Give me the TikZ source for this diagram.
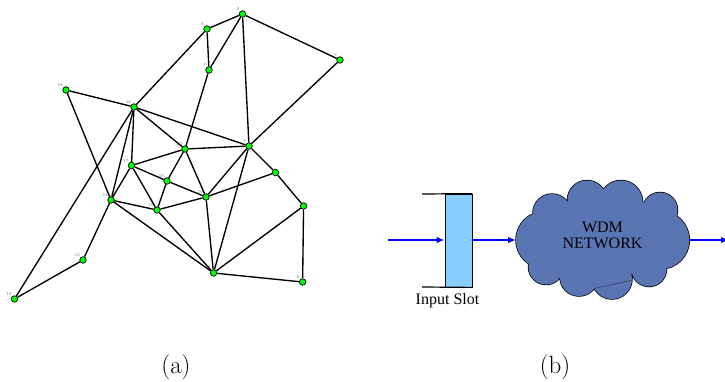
\documentclass[tikz,border=0pt]{standalone}
\usepackage{fontspec}
\newfontfamily\timesfont{Liberation Serif}
\usetikzlibrary{arrows.meta}
\definecolor{cloudblue}{HTML}{5A75B4}
\definecolor{slotblue}{HTML}{85CEFF}
\newcommand{\cloudbumps}{(552,213) circle (19pt) (587,200) circle (19.5pt) (621,202) circle (21.5pt)
  (660,210) circle (17.5pt) (660.3,240) circle (29pt) (649,269) circle (17.5pt)
  (612,279) circle (20pt) (579,277) circle (19pt) (546,267) circle (17.5pt) (544.5,240) circle (28.5pt)}
\tikzset{
  router/.style={circle,draw=black,fill=green,line width=0.7pt,inner sep=0pt,minimum size=6.5pt,label distance=-1.5pt},
  tag/.style={text=gray,font=\fontsize{4.5}{5}\selectfont\sffamily,inner sep=0.5pt},
  link/.style={line width=1.35pt},
  wave/.style={blue,line width=1.5pt,-{Latex[length=8pt,width=6.5pt]}},
  caption/.style={font=\fontsize{25}{28}\selectfont,inner sep=0pt},
  serif/.style={font=\fontsize{16}{16.5}\selectfont\timesfont,inner sep=0pt,align=center}
}
\begin{document}
\begin{tikzpicture}[x=1pt,y=-1pt]
\useasboundingbox (0,0) rectangle (725,381);
% routers of the mesh
\node[router,label={[tag]135:2}] (r2) at (242.5,14) {};
\node[router,label={[tag]135:6}] (r6) at (207,29) {};
\node[router,label={[tag]135:7}] (r7) at (209,70) {};
\node[router,label={[tag]135:3}] (r3) at (340,60) {};
\node[router,label={[tag]135:15}] (r15) at (66,90) {};
\node[router,label={[tag]135:14}] (r14) at (134,107) {};
\node[router,label={[tag]135:4}] (r4) at (249,146) {};
\node[router,label={[tag]135:10}] (r10) at (185,149) {};
\node[router,label={[tag]135:17}] (r17) at (131.5,165.5) {};
\node[router,label={[tag]135:18}] (r18) at (167,181) {};
\node[router,label={[tag]135:5}] (r5) at (275.5,172.5) {};
\node[router,label={[tag]135:16}] (r16) at (206,197) {};
\node[router,label={[tag]135:11}] (r11) at (111,200) {};
\node[router,label={[tag]135:19}] (r19) at (157,210) {};
\node[router,label={[tag]135:9}] (r9) at (303.6,206) {};
\node[router,label={[tag]135:0}] (r0) at (213.5,273) {};
\node[router,label={[tag]135:12}] (r12) at (83,260) {};
\node[router,label={[tag]135:13}] (r13) at (14.5,299) {};
\node[router,label={[tag]135:8}] (r8) at (302.6,282) {};
% links
\draw[link] (r2)--(r6);
\draw[link] (r2)--(r7);
\draw[link] (r2)--(r4);
\draw[link] (r2)--(r3);
\draw[link] (r6)--(r7);
\draw[link] (r6)--(r14);
\draw[link] (r7)--(r10);
\draw[link] (r3)--(r4);
\draw[link] (r15)--(r14);
\draw[link] (r15)--(r11);
\draw[link] (r14)--(r4);
\draw[link] (r14)--(r10);
\draw[link] (r14)--(r17);
\draw[link] (r14)--(r11);
\draw[link] (r14)--(r13);
\draw[link] (r17)--(r10);
\draw[link] (r10)--(r4);
\draw[link] (r10)--(r18);
\draw[link] (r10)--(r16);
\draw[link] (r17)--(r11);
\draw[link] (r17)--(r18);
\draw[link] (r17)--(r19);
\draw[link] (r18)--(r19);
\draw[link] (r18)--(r16);
\draw[link] (r11)--(r19);
\draw[link] (r11)--(r0);
\draw[link] (r11)--(r12);
\draw[link] (r19)--(r16);
\draw[link] (r19)--(r0);
\draw[link] (r16)--(r4);
\draw[link] (r16)--(r5);
\draw[link] (r16)--(r0);
\draw[link] (r4)--(r5);
\draw[link] (r4)--(r0);
\draw[link] (r5)--(r9);
\draw[link] (r9)--(r0);
\draw[link] (r9)--(r8);
\draw[link] (r0)--(r8);
\draw[link] (r12)--(r13);
% cloud
\draw[line width=1.5pt] \cloudbumps;
\fill[cloudblue] \cloudbumps;
\fill[cloudblue] (602,240) circle (45pt);
\fill[cloudblue] (572,255) circle (22pt);
\fill[cloudblue] (640,226) circle (24pt);
\draw[line width=0.2pt] (595,288.3)--(632.3,280);
\node[serif] (wdm) at (602.5,235.5) {WDM\\NETWORK};
\coordinate (cloudin) at (516,240);
\coordinate (cloudout) at (689.5,240);
% input slot
\node[draw,fill=slotblue,line width=0.8pt,minimum width=27pt,minimum height=93pt,inner sep=0pt] (slot) at (458.5,240.5) {};
\coordinate (topend) at (422,194);
\coordinate (botend) at (422,287);
\draw[line width=1.2pt] (slot.north east)--(topend);
\draw[line width=1.2pt] (slot.south east)--(botend);
\draw[line width=1.5pt] (slot.north east)--(slot.south east);
\node[serif] (slotname) at (447.5,301) {Input Slot};
% arrows
\coordinate (infeed) at (388,240);
\coordinate (outfeed) at (729,240);
\draw[wave] (infeed)--(slot.west |- infeed);
\draw[wave] (slot.east |- infeed)--(cloudin);
\draw[wave] (cloudout)--(outfeed);
% captions
\node[caption] (capa) at (176,367) {(a)};
\node[caption] (capb) at (555,367) {(b)};
\end{tikzpicture}
\end{document}
